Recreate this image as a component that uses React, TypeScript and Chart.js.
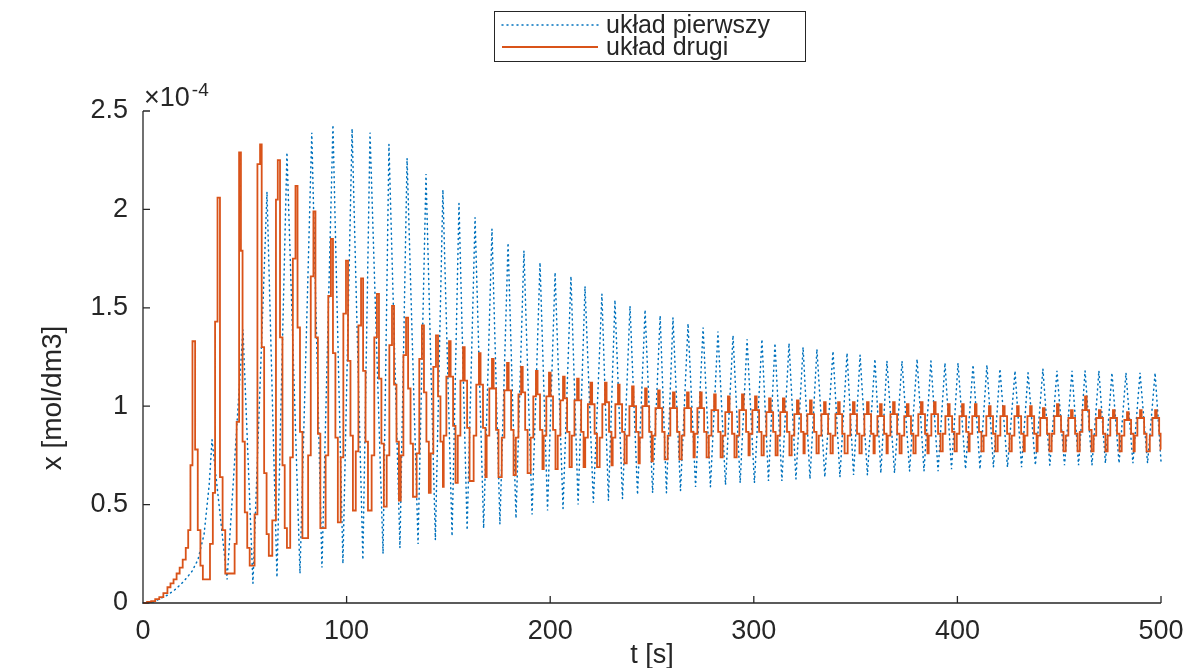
import React, { useEffect, useRef } from "react";
import { Chart, registerables } from "chart.js";

Chart.register(...registerables);

// Axis ticks
const xTicks = [0, 100, 200, 300, 400, 500];
const yTicks = [0, 0.5, 1, 1.5, 2, 2.5];
const seriesLabels = ["układ pierwszy", "układ drugi"];

// Values in units of 1e-4 mol/dm3 ; [t (s), x]
const blueSeries: [number, number][] = [
  [0, 0], [4, 0], [8, 0.02], [12, 0.04], [16, 0.07], [20, 0.11], [24, 0.16], [27, 0.22], [30, 0.35], [32.5, 0.6],
  [33.9, 0.83], [41.3, 0.12], [49.1, 1.39], [54.0, 0.10], [60.9, 2.09], [65.8, 0.13],
  [70.7, 2.29], [77.1, 0.15], [82.9, 2.39], [87.9, 0.18], [93.3, 2.43], [98.2, 0.20],
  [102.7, 2.41], [108.0, 0.22], [111.5, 2.39], [117.9, 0.25], [120.8, 2.33], [126.2, 0.28],
  [129.7, 2.26], [135.1, 0.30], [139.0, 2.18], [143.6, 0.32], [147.3, 2.10], [151.8, 0.34],
  [155.2, 2.03], [159.2, 0.37], [163.1, 1.96], [167.3, 0.38], [171.4, 1.90], [175.3, 0.40],
  [179.3, 1.83], [183.2, 0.43], [187.1, 1.79], [191.1, 0.45], [195.0, 1.73], [198.7, 0.47],
  [202.4, 1.68], [206.3, 0.48], [210.2, 1.66], [213.7, 0.50], [217.1, 1.61], [221.2, 0.51],
  [225.4, 1.57], [228.6, 0.52], [231.8, 1.54], [235.5, 0.53], [239.2, 1.51], [242.9, 0.55],
  [246.6, 1.49], [250.3, 0.56], [254.0, 1.46], [257.1, 0.56], [260.3, 1.45], [264.0, 0.57],
  [267.7, 1.42], [271.4, 0.59], [275.1, 1.40], [278.7, 0.59], [282.4, 1.38], [286.1, 0.60],
  [289.8, 1.36], [293.3, 0.61], [296.7, 1.34], [300.3, 0.61], [304.0, 1.34], [307.2, 0.62],
  [310.4, 1.32], [313.8, 0.62], [317.3, 1.32], [320.7, 0.63], [324.2, 1.30], [327.6, 0.63],
  [331.0, 1.29], [334.9, 0.64], [338.9, 1.28], [342.3, 0.64], [345.8, 1.27], [349.0, 0.65],
  [352.2, 1.26], [355.8, 0.65], [359.5, 1.24], [362.4, 0.66], [365.4, 1.23], [369.1, 0.66],
  [372.8, 1.23], [376.5, 0.67], [380.2, 1.24], [383.6, 0.67], [387.0, 1.23], [390.5, 0.67],
  [393.9, 1.22], [397.1, 0.68], [400.3, 1.22], [404.0, 0.68], [407.7, 1.21], [411.1, 0.68],
  [414.5, 1.21], [417.7, 0.69], [420.9, 1.19], [424.6, 0.69], [428.3, 1.18], [431.5, 0.69],
  [434.7, 1.17], [438.3, 0.70], [442.0, 1.19], [445.4, 0.70], [448.9, 1.18], [452.6, 0.70],
  [456.3, 1.18], [459.5, 0.70], [462.7, 1.18], [466.1, 0.70], [469.5, 1.18], [472.7, 0.71],
  [475.9, 1.17], [479.4, 0.71], [482.8, 1.17], [486.2, 0.71], [489.7, 1.17], [493.4, 0.71],
  [497.1, 1.17], [500, 0.72],
];

// Stair-step (zero-order hold) series ; [t (s), x]
const orangeSeries: [number, number][] = [
  [0, 0], [2, 0.005], [4, 0.01], [6, 0.02], [8, 0.03], [10, 0.05], [12, 0.08], [13.5, 0.10], [15, 0.12], [16.5, 0.15],
  [18, 0.18], [19.5, 0.22], [21, 0.28], [22.2, 0.37], [23.3, 0.70], [24.3, 1.33], [25.6, 0.78], [26.9, 0.37], [28.2, 0.19], [29.4, 0.12],
  [32.9, 0.30], [34.3, 0.56], [35.4, 1.43], [36.6, 2.06], [37.8, 0.64], [39.1, 0.37], [40.4, 0.15],
  [45.0, 0.30], [46.0, 0.92], [47.2, 2.29], [48.1, 1.79], [48.9, 0.82], [50.0, 0.46], [51.2, 0.28], [52.4, 0.19],
  [54.8, 0.45], [56.2, 2.23], [57.5, 2.33], [58.3, 1.30], [59.5, 0.66], [60.7, 0.35], [61.8, 0.24],
  [63.5, 0.42], [65.3, 2.05], [66.2, 2.25], [67.3, 1.35], [68.5, 0.70], [69.6, 0.38], [70.7, 0.28],
  [72.3, 0.74], [73.6, 1.75], [74.9, 2.12], [75.9, 1.40], [77.1, 0.87], [78.3, 0.33],
  [81.1, 0.75], [82.4, 1.66], [83.7, 1.99], [84.7, 1.35], [85.9, 0.86], [87.1, 0.38],
  [89.7, 0.75], [91.0, 1.56], [92.3, 1.85], [93.3, 1.27], [94.5, 0.84], [95.7, 0.41],
  [97.1, 0.74], [98.4, 1.47], [99.7, 1.74], [100.7, 1.23], [101.9, 0.85], [103.1, 0.47],
  [104.5, 0.77], [105.8, 1.41], [107.1, 1.65], [108.1, 1.18], [109.3, 0.82], [110.5, 0.47],
  [112.3, 0.75], [113.6, 1.35], [114.9, 1.57], [115.9, 1.14], [117.1, 0.81], [118.3, 0.49],
  [119.7, 0.75], [121.0, 1.31], [122.3, 1.51], [123.3, 1.11], [124.5, 0.82], [125.7, 0.52],
  [126.6, 0.75], [127.9, 1.26], [129.2, 1.45], [130.2, 1.09], [131.4, 0.81], [132.6, 0.54],
  [134.4, 0.76], [135.7, 1.24], [137.0, 1.41], [138.0, 1.07], [139.2, 0.82], [140.4, 0.56],
  [141.3, 0.76], [142.6, 1.20], [143.9, 1.36], [144.9, 1.05], [146.1, 0.82], [147.3, 0.59],
  [147.7, 0.85], [149.0, 1.15], [150.3, 1.33], [151.1, 1.15], [152.3, 0.90], [153.5, 0.61],
  [154.6, 0.85], [155.9, 1.13], [157.2, 1.30], [158.0, 1.13], [159.2, 0.89], [160.4, 0.62],
  [162.4, 0.85], [163.7, 1.11], [165.0, 1.27], [165.8, 1.11], [167.0, 0.89], [168.2, 0.64],
  [168.8, 0.85], [170.1, 1.09], [171.4, 1.24], [172.2, 1.09], [173.4, 0.88], [174.6, 0.64],
  [176.2, 0.84], [177.5, 1.08], [178.8, 1.22], [179.6, 1.08], [180.8, 0.88], [182.0, 0.65],
  [183.1, 0.84], [184.4, 1.06], [185.7, 1.20], [186.5, 1.07], [187.7, 0.88], [188.9, 0.66],
  [190.4, 0.84], [191.7, 1.05], [193.0, 1.18], [193.8, 1.06], [195.0, 0.88], [196.2, 0.68],
  [196.8, 0.85], [198.1, 1.05], [199.4, 1.17], [200.2, 1.05], [201.4, 0.88], [202.6, 0.68],
  [203.7, 0.85], [205.0, 1.03], [206.3, 1.15], [207.1, 1.04], [208.3, 0.87], [209.5, 0.69],
  [210.6, 0.85], [211.9, 1.03], [213.2, 1.14], [214.0, 1.03], [215.2, 0.87], [216.4, 0.69],
  [217.2, 0.84], [218.5, 1.01], [219.8, 1.12], [220.6, 1.01], [221.8, 0.86], [223.0, 0.69],
  [224.3, 0.84], [225.6, 1.01], [226.9, 1.12], [227.7, 1.02], [228.9, 0.87], [230.1, 0.70],
  [230.7, 0.84], [232.0, 1.01], [233.3, 1.11], [234.1, 1.01], [235.3, 0.87], [236.5, 0.71],
  [237.6, 0.85], [238.9, 1.00], [240.2, 1.10], [241.0, 1.00], [242.2, 0.87], [243.4, 0.71],
  [244.0, 0.84], [245.3, 1.00], [246.6, 1.09], [247.4, 1.00], [248.6, 0.87], [249.8, 0.72],
  [250.4, 0.85], [251.7, 0.99], [253.0, 1.08], [253.8, 0.99], [255.0, 0.87], [256.2, 0.73],
  [257.7, 0.85], [259.0, 0.99], [260.3, 1.07], [261.1, 0.99], [262.3, 0.87], [263.5, 0.73],
  [264.6, 0.85], [265.9, 0.99], [267.2, 1.07], [268.0, 0.99], [269.2, 0.87], [270.4, 0.74],
  [271.0, 0.86], [272.3, 0.99], [273.6, 1.07], [274.4, 0.99], [275.6, 0.87], [276.8, 0.74],
  [277.9, 0.85], [279.2, 0.98], [280.5, 1.06], [281.3, 0.98], [282.5, 0.87], [283.7, 0.74],
  [284.7, 0.85], [286.0, 0.97], [287.3, 1.05], [288.1, 0.97], [289.3, 0.86], [290.5, 0.74],
  [291.6, 0.85], [292.9, 0.98], [294.2, 1.06], [295.0, 0.98], [296.2, 0.87], [297.4, 0.75],
  [298.0, 0.86], [299.3, 0.98], [300.6, 1.05], [301.4, 0.98], [302.6, 0.87], [303.8, 0.75],
  [304.9, 0.85], [306.2, 0.97], [307.5, 1.04], [308.3, 0.97], [309.5, 0.87], [310.7, 0.75],
  [311.7, 0.85], [313.0, 0.97], [314.3, 1.04], [315.1, 0.97], [316.3, 0.87], [317.5, 0.75],
  [318.6, 0.85], [319.9, 0.96], [321.2, 1.03], [322.0, 0.96], [323.2, 0.87], [324.4, 0.76],
  [325.0, 0.86], [326.3, 0.96], [327.6, 1.03], [328.4, 0.96], [329.6, 0.87], [330.8, 0.76],
  [331.9, 0.85], [333.2, 0.96], [334.5, 1.02], [335.3, 0.96], [336.5, 0.86], [337.7, 0.76],
  [338.8, 0.85], [340.1, 0.96], [341.4, 1.02], [342.2, 0.96], [343.4, 0.86], [344.6, 0.76],
  [346.1, 0.85], [347.4, 0.96], [348.7, 1.02], [349.5, 0.96], [350.7, 0.86], [351.9, 0.76],
  [353.0, 0.85], [354.3, 0.96], [355.6, 1.02], [356.4, 0.96], [357.6, 0.86], [358.8, 0.76],
  [359.4, 0.85], [360.7, 0.95], [362.0, 1.01], [362.8, 0.95], [364.0, 0.86], [365.2, 0.76],
  [365.8, 0.85], [367.1, 0.96], [368.4, 1.02], [369.2, 0.96], [370.4, 0.86], [371.6, 0.76],
  [372.6, 0.85], [373.9, 0.95], [375.2, 1.01], [376.0, 0.95], [377.2, 0.86], [378.4, 0.76],
  [379.5, 0.85], [380.8, 0.96], [382.1, 1.02], [382.9, 0.96], [384.1, 0.86], [385.3, 0.76],
  [385.9, 0.85], [387.2, 0.96], [388.5, 1.02], [389.3, 0.96], [390.5, 0.86], [391.7, 0.77],
  [392.8, 0.86], [394.1, 0.95], [395.4, 1.01], [396.2, 0.95], [397.4, 0.87], [398.6, 0.77],
  [399.7, 0.86], [401.0, 0.95], [402.3, 1.01], [403.1, 0.95], [404.3, 0.87], [405.5, 0.77],
  [406.0, 0.86], [407.3, 0.95], [408.6, 1.01], [409.4, 0.95], [410.6, 0.87], [411.8, 0.77],
  [412.9, 0.85], [414.2, 0.95], [415.5, 1.00], [416.3, 0.95], [417.5, 0.86], [418.7, 0.77],
  [419.8, 0.85], [421.1, 0.95], [422.4, 1.00], [423.2, 0.95], [424.4, 0.86], [425.6, 0.77],
  [426.7, 0.85], [428.0, 0.95], [429.3, 1.00], [430.1, 0.95], [431.3, 0.86], [432.5, 0.77],
  [433.1, 0.85], [434.4, 0.95], [435.7, 1.00], [436.5, 0.95], [437.7, 0.86], [438.9, 0.77],
  [439.4, 0.85], [440.7, 0.94], [442.0, 0.99], [442.8, 0.94], [444.0, 0.86], [445.2, 0.77],
  [446.3, 0.86], [447.6, 0.95], [448.9, 1.01], [449.7, 0.95], [450.9, 0.87], [452.1, 0.77],
  [453.2, 0.85], [454.5, 0.94], [455.8, 0.98], [456.6, 0.94], [457.8, 0.86], [459.0, 0.77],
  [460.1, 0.87], [461.4, 0.98], [462.7, 1.05], [463.5, 0.98], [464.7, 0.88], [465.9, 0.77],
  [466.9, 0.85], [468.2, 0.94], [469.5, 0.98], [470.3, 0.94], [471.5, 0.86], [472.7, 0.77],
  [473.8, 0.85], [475.1, 0.94], [476.4, 0.98], [477.2, 0.94], [478.4, 0.86], [479.6, 0.77],
  [480.7, 0.85], [482.0, 0.93], [483.3, 0.97], [484.1, 0.93], [485.3, 0.86], [486.5, 0.77],
  [487.1, 0.85], [488.4, 0.94], [489.7, 0.98], [490.5, 0.94], [491.7, 0.86], [492.9, 0.77],
  [494.5, 0.85], [495.8, 0.94], [497.1, 0.98], [497.9, 0.94], [499.1, 0.86], [499.8, 0.78], [500, 0.78],
];

const BLUE = "#0072BD";
const ORANGE = "#D95319";
const AXIS = "#262626";
const FONT = "'Liberation Sans', Arial, Helvetica, sans-serif";

const decorPlugin = {
  id: "decor",
  afterDraw(chart: any) {
    const ctx: CanvasRenderingContext2D = chart.ctx;
    const xs = chart.scales.x;
    const ys = chart.scales.y;
    const { left, right, top, bottom } = chart.chartArea;
    ctx.save();
    // axes + inward ticks
    ctx.strokeStyle = AXIS;
    ctx.lineWidth = 1.3;
    ctx.setLineDash([]);
    ctx.beginPath();
    ctx.moveTo(left, top);
    ctx.lineTo(left, bottom);
    ctx.lineTo(right, bottom);
    xTicks.forEach((t) => {
      const px = xs.getPixelForValue(t);
      ctx.moveTo(px, bottom);
      ctx.lineTo(px, bottom - 7);
    });
    yTicks.forEach((v) => {
      const py = ys.getPixelForValue(v);
      ctx.moveTo(left, py);
      ctx.lineTo(left + 7, py);
    });
    ctx.stroke();

    ctx.fillStyle = AXIS;
    // exponent
    ctx.textAlign = "left";
    ctx.textBaseline = "alphabetic";
    ctx.font = `27px ${FONT}`;
    ctx.fillText("×10", left + 1, top - 5);
    const w = ctx.measureText("×10").width;
    ctx.font = `19px ${FONT}`;
    ctx.fillText("-4", left + 3 + w, top - 15);

    // x title
    ctx.font = `27px ${FONT}`;
    ctx.textAlign = "center";
    ctx.fillText("t [s]", (left + right) / 2, 663);

    // y title
    ctx.save();
    ctx.translate(53, 398);
    ctx.rotate(-Math.PI / 2);
    ctx.textBaseline = "middle";
    ctx.font = `28px ${FONT}`;
    ctx.fillText("x [mol/dm3]", 0, 0);
    ctx.restore();

    // legend
    const bx = 494.5, by = 11.5, bw = 311, bh = 50;
    ctx.fillStyle = "#ffffff";
    ctx.fillRect(bx, by, bw, bh);
    ctx.strokeStyle = AXIS;
    ctx.lineWidth = 1;
    ctx.strokeRect(bx, by, bw, bh);

    ctx.lineWidth = 1.5;
    ctx.strokeStyle = BLUE;
    ctx.lineCap = "round";
    ctx.setLineDash([1, 4]);
    ctx.beginPath();
    ctx.moveTo(502, 25);
    ctx.lineTo(598, 25);
    ctx.stroke();
    ctx.setLineDash([]);
    ctx.lineCap = "butt";
    ctx.lineWidth = 1.8;
    ctx.strokeStyle = ORANGE;
    ctx.beginPath();
    ctx.moveTo(502, 47);
    ctx.lineTo(598, 47);
    ctx.stroke();

    ctx.fillStyle = AXIS;
    ctx.textAlign = "left";
    ctx.textBaseline = "alphabetic";
    ctx.font = `25px ${FONT}`;
    ctx.fillText(seriesLabels[0], 606, 33);
    ctx.fillText(seriesLabels[1], 606, 55);
    ctx.restore();
  },
};

export default function App() {
  const ref = useRef<HTMLCanvasElement | null>(null);
  useEffect(() => {
    document.body.style.margin = "0";
    if (!ref.current) return;
    const chart = new Chart(ref.current, {
      type: "line",
      data: {
        datasets: [
          {
            label: seriesLabels[1],
            data: orangeSeries.map(([x, y]) => ({ x, y })),
            borderColor: ORANGE,
            borderWidth: 1.8,
            pointRadius: 0,
            stepped: "before",
            fill: false,
            order: 0,
            clip: 4,
          },
          {
            label: seriesLabels[0],
            data: blueSeries.map(([x, y]) => ({ x, y })),
            borderColor: BLUE,
            borderWidth: 1.5,
            borderDash: [1, 4],
            borderCapStyle: "round",
            pointRadius: 0,
            tension: 0,
            fill: false,
            order: 1,
            clip: 4,
          },
        ],
      },
      options: {
        animation: false,
        responsive: false,
        devicePixelRatio: 1,
        layout: { padding: { left: 0, top: 111, right: 37, bottom: 0 } },
        plugins: { legend: { display: false }, tooltip: { enabled: false } },
        scales: {
          x: {
            type: "linear",
            min: 0,
            max: 500,
            afterFit: (s: any) => { s.height = 65; },
            afterBuildTicks: (s: any) => { s.ticks = xTicks.map((v) => ({ value: v })); },
            grid: { display: false, drawTicks: false },
            border: { display: false },
            ticks: { color: AXIS, font: { family: FONT, size: 27 }, padding: 12, maxRotation: 0, callback: (v: any) => String(v) },
          },
          y: {
            type: "linear",
            min: 0,
            max: 2.5,
            afterFit: (s: any) => { s.width = 143; },
            afterBuildTicks: (s: any) => { s.ticks = yTicks.map((v) => ({ value: v })); },
            grid: { display: false, drawTicks: false },
            border: { display: false },
            ticks: { color: AXIS, font: { family: FONT, size: 27 }, padding: 15, callback: (v: any) => String(v) },
          },
        },
      },
      plugins: [decorPlugin],
    });
    return () => chart.destroy();
  }, []);
  return (
    <div style={{ width: 1198, height: 668 }}>
      <canvas ref={ref} width={1198} height={668} style={{ width: 1198, height: 668, display: "block" }} />
    </div>
  );
}
